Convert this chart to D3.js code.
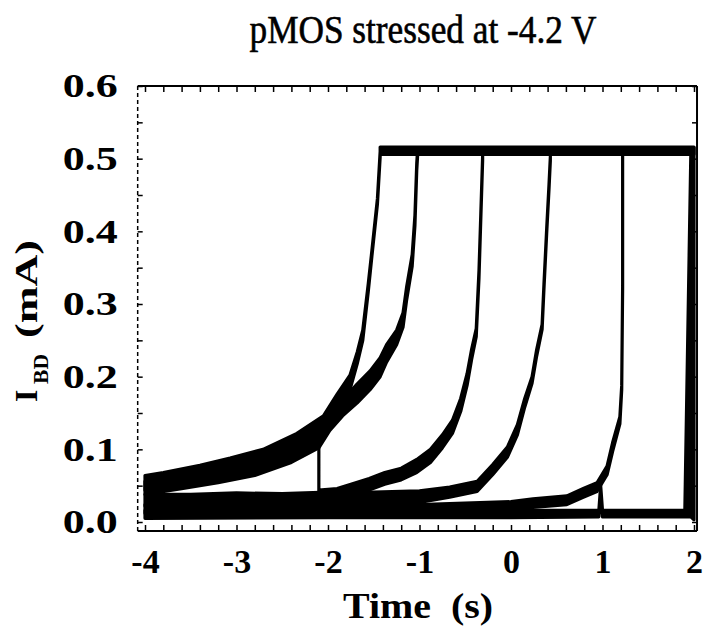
<!DOCTYPE html>
<html>
<head>
<meta charset="utf-8">
<script src="https://cdn.jsdelivr.net/npm/d3@7/dist/d3.min.js"></script>
<style>
  body { margin: 0; background: #fff; }
  svg { display: block; }
  text { font-family: "Liberation Serif", "Times New Roman", serif; fill: #000; }
</style>
</head>
<body>
<svg id="chart" width="710" height="629"></svg>
<script>
// axis values
var xTicks = [-4, -3, -2, -1, 0, 1, 2];
var yTicks = [0, 0.1, 0.2, 0.3, 0.4, 0.5, 0.6];

// breakdown traces: time (s), lower and upper edge of the noisy trace (mA)
var aT  = [-4.0, -3.8, -3.4, -3.07, -2.71, -2.34, -2.05, -1.9, -1.76, -1.68, -1.62, -1.56, -1.52, -1.46, -1.43, -1.43, 2.0];
var aLo = [0.044, 0.050, 0.058, 0.068, 0.081, 0.102, 0.126, 0.154, 0.182, 0.218, 0.250, 0.317, 0.366, 0.437, 0.502, 0.506, 0.506];
var aHi = [0.064, 0.068, 0.078, 0.088, 0.100, 0.122, 0.146, 0.176, 0.202, 0.234, 0.264, 0.328, 0.374, 0.445, 0.510, 0.516, 0.516];

var bT  = [-4.0, -3.6, -3.2, -2.8, -2.4, -2.1, -1.98, -1.84, -1.68, -1.54, -1.43, -1.36, -1.25, -1.18, -1.14, -1.08, -1.05, -1.03, -1.02];
var bLo = [0.038, 0.046, 0.054, 0.064, 0.082, 0.102, 0.126, 0.146, 0.164, 0.182, 0.200, 0.220, 0.244, 0.268, 0.306, 0.352, 0.408, 0.484, 0.506];
var bHi = [0.056, 0.062, 0.070, 0.082, 0.100, 0.122, 0.148, 0.168, 0.190, 0.208, 0.226, 0.244, 0.264, 0.288, 0.324, 0.368, 0.422, 0.494, 0.514];

var cT  = [-2.1, -2.1, -1.9, -1.75, -1.55, -1.38, -1.2, -1.03, -0.88, -0.75, -0.64, -0.55, -0.48, -0.43, -0.38, -0.35, -0.33, -0.31, -0.31];
var cLo = [0.106, 0.030, 0.032, 0.036, 0.044, 0.052, 0.058, 0.068, 0.082, 0.102, 0.122, 0.152, 0.188, 0.224, 0.255, 0.335, 0.417, 0.497, 0.506];
var cHi = [0.110, 0.044, 0.046, 0.052, 0.060, 0.068, 0.074, 0.086, 0.100, 0.120, 0.140, 0.170, 0.204, 0.238, 0.266, 0.346, 0.424, 0.504, 0.514];

var dT  = [-4.0, -3.5, -3.0, -2.5, -2.0, -1.5, -1.0, -0.67, -0.37, -0.2, -0.04, 0.07, 0.15, 0.23, 0.28, 0.34, 0.36, 0.39, 0.415, 0.43, 0.43];
var dLo = [0.022, 0.023, 0.024, 0.022, 0.025, 0.025, 0.027, 0.034, 0.042, 0.065, 0.089, 0.120, 0.158, 0.191, 0.228, 0.265, 0.320, 0.397, 0.457, 0.497, 0.506];
var dHi = [0.038, 0.038, 0.040, 0.039, 0.041, 0.041, 0.043, 0.048, 0.056, 0.079, 0.103, 0.134, 0.170, 0.200, 0.237, 0.272, 0.327, 0.404, 0.464, 0.503, 0.514];

var eT  = [-4.0, -3.0, -2.0, -1.0, 0.0, 0.24, 0.61, 0.79, 0.94, 1.05, 1.11, 1.19, 1.21, 1.22, 1.22, 1.22];
var eLo = [0.012, 0.013, 0.014, 0.013, 0.016, 0.020, 0.024, 0.034, 0.042, 0.065, 0.097, 0.135, 0.182, 0.321, 0.497, 0.506];
var eHi = [0.024, 0.024, 0.025, 0.024, 0.028, 0.032, 0.036, 0.046, 0.054, 0.077, 0.109, 0.145, 0.188, 0.325, 0.503, 0.514];

var fT  = [-4.0, -2.0, 0.0, 0.96, 0.98, 1.0, 1.9, 1.965, 2.0];
var fLo = [0.005, 0.006, 0.006, 0.007, 0.048, 0.007, 0.007, 0.007, 0.003];
var fHi = [0.016, 0.016, 0.016, 0.016, 0.050, 0.016, 0.016, 0.505, 0.515];

var traces = [[aT, aLo, aHi], [bT, bLo, bHi], [cT, cLo, cHi], [dT, dLo, dHi], [eT, eLo, eHi], [fT, fLo, fHi]];

var svg = d3.select("#chart");

var x = d3.scaleLinear().domain([-4, 2]).range([145, 694]);
var y = d3.scaleLinear().domain([0, 0.6]).range([522, 86]);

var frameL = x(-4.08), frameR = x(2.033), frameT = y(0.6), frameB = y(-0.0124);

// traces
var area = d3.area()
    .x(function(d) { return x(d.t); })
    .y0(function(d) { return y(d.lo); })
    .y1(function(d) { return y(d.hi); });

traces.forEach(function(tr) {
  var pts = tr[0].map(function(t, i) { return {t: t, lo: tr[1][i], hi: tr[2][i]}; });
  svg.append("path")
      .datum(pts)
      .attr("d", area)
      .attr("fill", "#000")
      .attr("stroke", "#000")
      .attr("stroke-width", 3.2)
      .attr("stroke-linejoin", "round");
});

// frame
svg.append("line").attr("x1", frameL).attr("x2", frameR).attr("y1", frameT).attr("y2", frameT)
    .attr("stroke", "#000").attr("stroke-width", 2);
svg.append("line").attr("x1", frameL).attr("x2", frameR).attr("y1", frameB).attr("y2", frameB)
    .attr("stroke", "#000").attr("stroke-width", 2);
svg.append("line").attr("x1", frameR).attr("x2", frameR).attr("y1", frameT).attr("y2", frameB)
    .attr("stroke", "#000").attr("stroke-width", 2);
svg.append("line").attr("x1", frameL).attr("x2", frameL).attr("y1", frameT).attr("y2", frameB)
    .attr("stroke", "#000").attr("stroke-width", 1.5).attr("stroke-dasharray", "4,3");

// inner ticks
var minorX = d3.range(-4, 2.001, 0.2).map(function(v) { return Math.round(v * 10) / 10; });
var minorY = d3.range(0, 0.601, 0.05).map(function(v) { return Math.round(v * 100) / 100; });

function inner(g) {
  g.select(".domain").remove();
  g.selectAll("text").remove();
  g.selectAll("line").attr("stroke", "#000").attr("stroke-width", 1.5);
}

svg.append("g").attr("transform", "translate(0," + frameB + ")")
    .call(d3.axisTop(x).tickValues(minorX).tickSize(6)).call(inner);
svg.append("g").attr("transform", "translate(0," + frameT + ")")
    .call(d3.axisBottom(x).tickValues(minorX).tickSize(6)).call(inner);
svg.append("g").attr("transform", "translate(" + frameL + ",0)")
    .call(d3.axisRight(y).tickValues(minorY).tickSize(5)).call(inner);
svg.append("g").attr("transform", "translate(" + frameR + ",0)")
    .call(d3.axisLeft(y).tickValues(minorY).tickSize(5)).call(inner);

// tick labels
var xAxis = svg.append("g").attr("transform", "translate(0," + frameB + ")")
    .call(d3.axisBottom(x).tickValues(xTicks).tickSize(0).tickPadding(18)
      .tickFormat(function(d) { return d < 0 ? "-" + Math.abs(d) : d; }));
xAxis.select(".domain").remove();
xAxis.selectAll("text")
    .style("font-family", '"Liberation Serif", serif')
    .style("font-size", "34px").style("font-weight", "bold");

var yAxis = svg.append("g").attr("transform", "translate(" + frameL + ",0)")
    .call(d3.axisLeft(y).tickValues(yTicks).tickSize(0).tickPadding(20).tickFormat(d3.format(".1f")));
yAxis.select(".domain").remove();
yAxis.selectAll("text")
    .style("font-family", '"Liberation Serif", serif')
    .style("font-size", "34px").style("font-weight", "bold")
    .attr("textLength", 55).attr("lengthAdjust", "spacingAndGlyphs");

// title
svg.append("text")
    .attr("x", 423).attr("y", 43)
    .attr("text-anchor", "middle")
    .attr("textLength", 347).attr("lengthAdjust", "spacingAndGlyphs")
    .attr("stroke", "#000").attr("stroke-width", 0.6)
    .style("font-size", "40px")
    .text("pMOS stressed at -4.2 V");

// x axis title
svg.append("text")
    .attr("x", 418).attr("y", 618)
    .attr("text-anchor", "middle")
    .attr("textLength", 150).attr("lengthAdjust", "spacingAndGlyphs")
    .style("font-size", "36px").style("font-weight", "bold")
    .style("white-space", "pre")
    .text("Time  (s)");

// y axis title
var yl = svg.append("g").attr("transform", "translate(37,320) rotate(-90)");
yl.append("text").attr("x", -82).attr("y", 0)
    .style("font-size", "32px").style("font-weight", "bold").text("I");
yl.append("text").attr("x", -64).attr("y", 11)
    .attr("textLength", 30).attr("lengthAdjust", "spacingAndGlyphs")
    .style("font-size", "20px").style("font-weight", "bold").text("BD");
yl.append("text").attr("x", -18).attr("y", 0)
    .attr("textLength", 98).attr("lengthAdjust", "spacingAndGlyphs")
    .style("font-size", "32px").style("font-weight", "bold").text("(mA)");
</script>
</body>
</html>
